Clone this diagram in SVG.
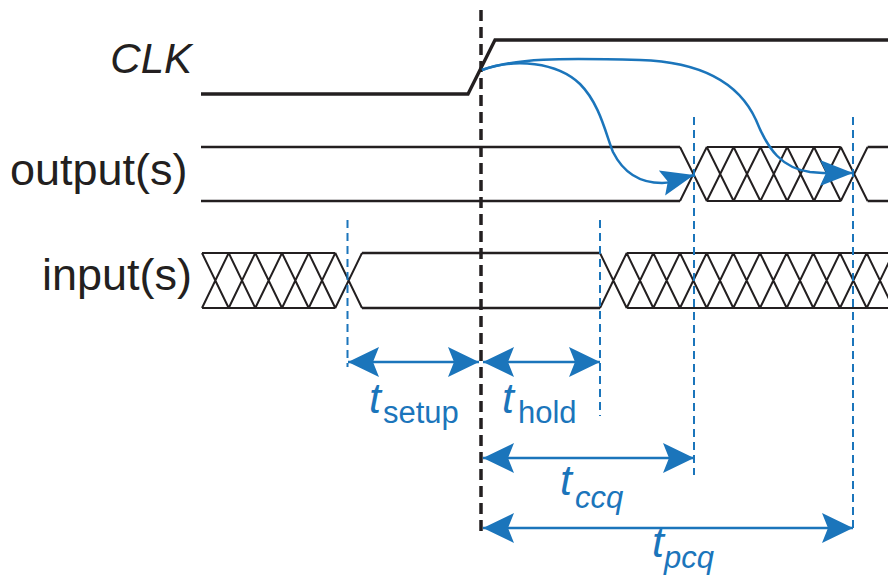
<svg xmlns="http://www.w3.org/2000/svg" width="888" height="583" viewBox="0 0 888 583">
<style>
.sig{fill:none;stroke:#231f20;stroke-width:2.4;stroke-linejoin:round}
.clkline{fill:none;stroke:#231f20;stroke-width:3.3;stroke-linejoin:miter}
.hatch{fill:none;stroke:#231f20;stroke-width:2}
.lbl{font-family:"Liberation Sans",Arial,sans-serif;font-size:45px;fill:#231f20}
.it{font-style:italic}
.bdash{fill:none;stroke:#1b75bb;stroke-width:2;stroke-dasharray:8 5}
.kdash{fill:none;stroke:#231f20;stroke-width:3.5;stroke-dasharray:11 6}
.dim{fill:none;stroke:#1b75bb;stroke-width:2.5}
.curve{fill:none;stroke:#1b75bb;stroke-width:2.5}
.tl{font-family:"Liberation Sans",Arial,sans-serif;fill:#1b75bb}
.tm{font-size:43px;font-style:italic}
.ts{font-size:31px}
</style>
<defs>
<marker id="ah" viewBox="-34 -17 36 34" markerWidth="36" markerHeight="34" refX="0" refY="0" orient="auto-start-reverse" markerUnits="userSpaceOnUse">
<path d="M0,0 L-31,-15 L-25,0 L-31,15 Z" fill="#1b75bb"/>
</marker>
<marker id="ch" viewBox="-36 -15 38 30" markerWidth="38" markerHeight="30" refX="0" refY="0" orient="auto" markerUnits="userSpaceOnUse">
<path d="M0,0 L-33,-13 L-27,0 L-33,13 Z" fill="#1b75bb"/>
</marker>
</defs>
<rect width="888" height="583" fill="#ffffff"/>

<g id="clk">
<text class="lbl it" x="192" y="73" text-anchor="end" style="font-size:42px">CLK</text>
<path class="clkline" d="M201,94 L468,94 L495,40 L888,40"/>
</g>

<g id="outputs">
<text class="lbl" x="10" y="185">output(s)</text>
<path class="sig" d="M201,147 L680,147 M201,201 L680,201"/>
<path class="hatch" d="M680,147 L706.8,201 M680,201 L706.8,147
M706.8,147 L733.6,201 M706.8,201 L733.6,147
M733.6,147 L760.4,201 M733.6,201 L760.4,147
M760.4,147 L787.2,201 M760.4,201 L787.2,147
M787.2,147 L814,201 M787.2,201 L814,147
M814,147 L840.8,201 M814,201 L840.8,147
M840.8,147 L867.6,201 M840.8,201 L867.6,147
M706.8,147 L840.8,147 M706.8,201 L840.8,201"/>
<path class="sig" d="M867.6,147 L888,147 M867.6,201 L888,201"/>
</g>

<g id="inputs">
<text class="lbl" x="42" y="290">input(s)</text>
<path class="hatch" d="M202,253 L228.7,308 M202,308 L228.7,253
M228.7,253 L255.3,308 M228.7,308 L255.3,253
M255.3,253 L282,308 M255.3,308 L282,253
M282,253 L308.7,308 M282,308 L308.7,253
M308.7,253 L335.3,308 M308.7,308 L335.3,253
M335.3,253 L362,308 M335.3,308 L362,253
M202,253 L335.3,253 M202,308 L335.3,308"/>
<path class="sig" d="M362,253 L600,253 M362,308 L600,308"/>
<path class="hatch" d="M600,253 L626.7,308 M600,308 L626.7,253
M626.7,253 L653.3,308 M626.7,308 L653.3,253
M653.3,253 L680,308 M653.3,308 L680,253
M680,253 L706.7,308 M680,308 L706.7,253
M706.7,253 L733.3,308 M706.7,308 L733.3,253
M733.3,253 L760,308 M733.3,308 L760,253
M760,253 L786.7,308 M760,308 L786.7,253
M786.7,253 L813.3,308 M786.7,308 L813.3,253
M813.3,253 L840,308 M813.3,308 L840,253
M840,253 L866.7,308 M840,308 L866.7,253
M866.7,253 L893.3,308 M866.7,308 L893.3,253
M626.7,253 L888,253 M626.7,308 L888,308"/>
</g>

<g id="connectors">
<line class="kdash" x1="481" y1="10" x2="481" y2="533"/>
<line class="bdash" x1="347.5" y1="220" x2="347.5" y2="367"/>
<line class="bdash" x1="600" y1="220" x2="600" y2="416"/>
<line class="bdash" x1="694" y1="117" x2="694" y2="475"/>
<line class="bdash" x1="853" y1="117" x2="853" y2="529"/>
<path class="curve" marker-end="url(#ch)" d="M482,70 C515,58 557,62 580,84 C600,104 606,135 613,152 C623,172 638,183 662,183 C675,183 686,177 694,175"/>
<path class="curve" marker-end="url(#ch)" d="M482,70 C515,58 560,58 640,60 C705,62 740,85 756,120 C768,150 782,168 810,172 C830,174 843,173 853,173"/>
<line class="dim" x1="348" y1="362" x2="479" y2="362" marker-start="url(#ah)" marker-end="url(#ah)"/>
<line class="dim" x1="483" y1="362" x2="600" y2="362" marker-start="url(#ah)" marker-end="url(#ah)"/>
<line class="dim" x1="483" y1="458" x2="694" y2="458" marker-start="url(#ah)" marker-end="url(#ah)"/>
<line class="dim" x1="483" y1="528" x2="853" y2="528" marker-start="url(#ah)" marker-end="url(#ah)"/>
</g>

<g id="timing-labels">
<text class="tl"><tspan class="tm" x="369" y="413">t</tspan><tspan class="ts" x="383" y="423">setup</tspan></text>
<text class="tl"><tspan class="tm" x="502" y="413">t</tspan><tspan class="ts" x="518" y="423">hold</tspan></text>
<text class="tl"><tspan class="tm" x="560" y="495">t</tspan><tspan class="ts" x="575" y="508" font-style="italic">ccq</tspan></text>
<text class="tl"><tspan class="tm" x="652" y="557">t</tspan><tspan class="ts" x="664" y="568" font-style="italic">pcq</tspan></text>
</g>
</svg>
